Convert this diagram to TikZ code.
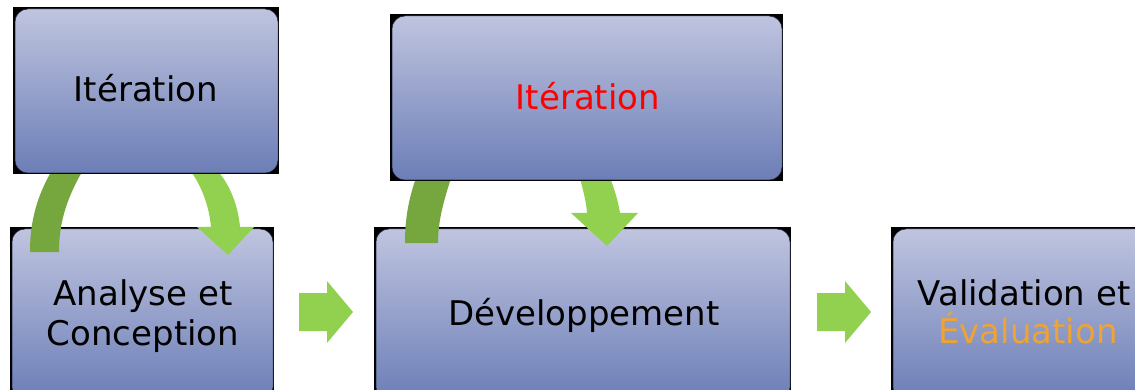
\documentclass[tikz,border=0pt]{standalone}
\usepackage{fontspec}
\setmainfont{DejaVu Sans}
\usetikzlibrary{fit}
\definecolor{boxtop}{RGB}{191,196,223}
\definecolor{boxbot}{RGB}{108,126,183}
\definecolor{boxedge}{RGB}{40,45,70}
\definecolor{darkgr}{RGB}{118,167,62}
\definecolor{lightgr}{RGB}{146,208,80}
\definecolor{orangetxt}{RGB}{238,163,50}
\newcommand{\backbox}[5]{%
  \fill[black] (#2-1.8,#3-1.5) rectangle (#4+0.6,#5+0.6);
  \node[gbox, fit={(#2,#3) (#4,#5)}] (#1) {};}
\tikzset{
  gbox/.style={rounded corners=13pt, top color=boxtop, bottom color=boxbot,
    draw=boxedge, line width=0.5pt, inner sep=0pt},
  lbl/.style={font=\fontsize{34}{40}\selectfont, anchor=base, inner sep=0pt},
  bigarrow/.style={fill=lightgr},
  darkband/.style={fill=darkgr},
}
\begin{document}
\begin{tikzpicture}[x=1pt,y=-1pt]
\useasboundingbox (0,0) rectangle (1135,390);
% lower boxes
\backbox{ana}{12}{229}{273}{400}
\backbox{dev}{376}{229}{790}{400}
\backbox{val}{893}{229}{1170}{400}
% straight arrows
\coordinate (a1) at (299,312);
\coordinate (a2) at (817,312);
\fill[bigarrow] (a1) ++(0,-19) -- ++(28,0) -- ++(0,-12) -- ++(26,31) -- ++(-26,31) -- ++(0,-12) -- ++(-28,0) -- cycle;
\fill[bigarrow] (a2) ++(0,-19) -- ++(28,0) -- ++(0,-12) -- ++(26,31) -- ++(-26,31) -- ++(0,-12) -- ++(-28,0) -- cycle;
% curved arrows, first pair
\fill[darkband] (30,252) .. controls (30,215) and (40,190) .. (55,165)
  -- (86,165) .. controls (68,195) and (59,220) .. (59,252) -- cycle;
\fill[bigarrow] (190,170) .. controls (201,185) and (209,205) .. (211,227)
  -- (197,227) -- (228,255) -- (254,227) -- (240,227)
  .. controls (238,205) and (230,185) .. (217,170) -- cycle;
% curved arrows, second pair
\fill[darkband] (405,243) .. controls (405,220) and (408,200) .. (417,175)
  -- (452,175) .. controls (444,200) and (438,220) .. (438,243) -- cycle;
\fill[bigarrow] (579,175) .. controls (583,190) and (586,200) .. (587,213)
  -- (571,213) -- (607,246) -- (638,213) -- (620,213)
  .. controls (618,200) and (614,188) .. (609,175) -- cycle;
% upper boxes
\backbox{it1}{15}{9}{278}{173}
\backbox{it2}{392}{16}{782}{180}
% labels
\node[lbl] (t1) at (146,102) {Itération};
\node[lbl, text=red] (t2) at (588,110) {Itération};
\node[lbl] (t3) at (143,305) {Analyse et};
\node[lbl] (t4) at (143,345) {Conception};
\node[lbl] (t5) at (584,325) {Développement};
\node[lbl] (t6) at (1024,305) {Validation et};
\node[lbl, text=orangetxt] (t7) at (1028,343) {Évaluation};
\end{tikzpicture}
\end{document}
